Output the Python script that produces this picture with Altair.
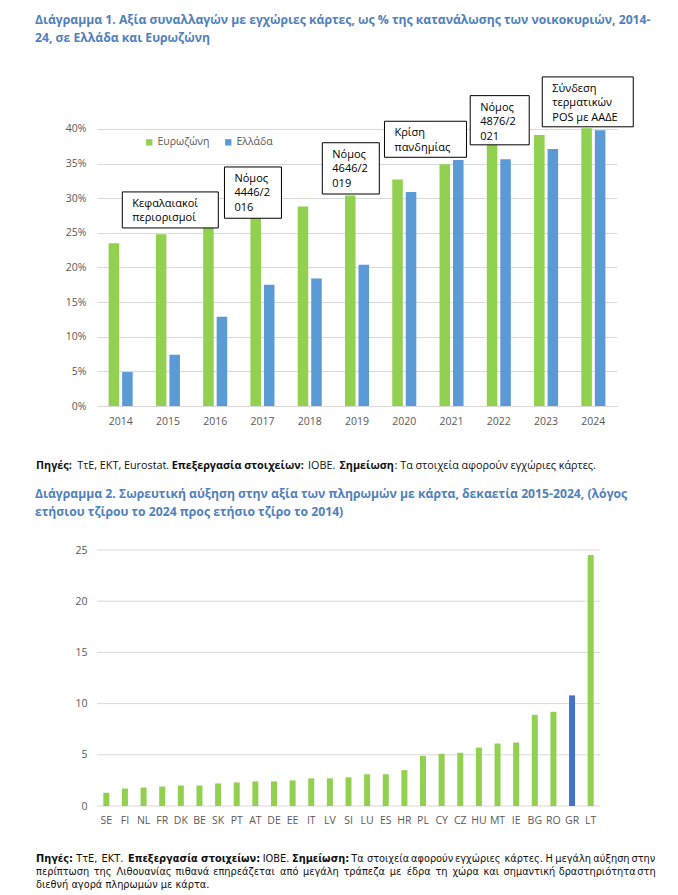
import altair as alt
import pandas as pd

# ---------------- data ----------------
years = ["2014", "2015", "2016", "2017", "2018", "2019", "2020", "2021", "2022", "2023", "2024"]
eurozone = [0.235, 0.248, 0.261, 0.275, 0.288, 0.304, 0.327, 0.349, 0.380, 0.391, 0.401]
greece = [0.049, 0.074, 0.129, 0.175, 0.184, 0.204, 0.309, 0.355, 0.356, 0.371, 0.398]
series_names = ["Ευρωζώνη", "Ελλάδα"]
pct_ticks = [0, 0.05, 0.10, 0.15, 0.20, 0.25, 0.30, 0.35, 0.40]

ann_texts = [
    ["Κεφαλαιακοί", "περιορισμοί"],
    ["Νόμος", "4446/2", "016"],
    ["Νόμος", "4646/2", "019"],
    ["Κρίση", "πανδημίας"],
    ["Νόμος", "4876/2", "021"],
    ["Σύνδεση", "τερματικών", "POS με ΑΑΔΕ"],
]
ann_years = ["2015", "2017", "2019", "2020", "2022", "2024"]
ann_top = [0.309, 0.345, 0.380, 0.411, 0.448, 0.475]
ann_bottom = [0.257, 0.271, 0.306, 0.359, 0.377, 0.403]

countries = ["SE", "FI", "NL", "FR", "DK", "BE", "SK", "PT", "AT", "DE", "EE", "IT", "LV", "SI",
             "LU", "ES", "HR", "PL", "CY", "CZ", "HU", "MT", "IE", "BG", "RO", "GR", "LT"]
growth = [1.3, 1.7, 1.8, 1.9, 2.0, 2.0, 2.2, 2.3, 2.4, 2.4, 2.5, 2.7, 2.7, 2.8,
          3.1, 3.1, 3.5, 4.9, 5.1, 5.2, 5.7, 6.1, 6.2, 8.9, 9.2, 10.8, 24.5]
highlight = "GR"
growth_ticks = [0, 5, 10, 15, 20, 25]

title1 = ["Διάγραμμα 1. Αξία συναλλαγών με εγχώριες κάρτες, ως % της κατανάλωσης των νοικοκυριών, 2014-",
          "24, σε Ελλάδα και Ευρωζώνη"]
title2 = ["Διάγραμμα 2. Σωρευτική αύξηση στην αξία των πληρωμών με κάρτα, δεκαετία 2015-2024, (λόγος",
          "ετήσιου τζίρου το 2024 προς ετήσιο τζίρο το 2014)"]
note1 = [("Πηγές:", True), (" ΤτΕ, ΕΚΤ, Eurostat. ", False), ("Επεξεργασία στοιχείων:", True),
         (" ΙΟΒΕ. ", False), ("Σημείωση", True), (": Τα στοιχεία αφορούν εγχώριες κάρτες.", False)]
note2 = [
    [("Πηγές:", True), (" ΤτΕ, ΕΚΤ. ", False), ("Επεξεργασία στοιχείων:", True), (" ΙΟΒΕ. ", False),
     ("Σημείωση:", True), (" Τα στοιχεία αφορούν εγχώριες κάρτες. Η μεγάλη αύξηση στην", False)],
    [("περίπτωση της Λιθουανίας πιθανά επηρεάζεται από μεγάλη τράπεζα με έδρα τη χώρα και σημαντική δραστηριότητα στη", False)],
    [("διεθνή αγορά πληρωμών με κάρτα.", False)],
]

# ---------------- styles / layout ----------------
FONT = "Open Sans"
NOTE2_FONT = "DejaVu Sans"
GREEN = "#92d050"
BLUE = "#5b9bd5"
DARKBLUE = "#4472c4"
TITLE_BLUE = "#4f81bd"
AXIS_GREY = "#595959"
GRID = "#d9d9d9"
ann_dx = [2.4, -9.5, -6.2, 21.2, 0.9, -5.6]
ann_w = [96, 57, 57, 82, 59, 91]

W = 520            # shared view width (chart 1 plot width)
H = 736            # view height: top of chart 1 plot to bottom of chart 2 plot
C1_ZERO = 336      # y of 0% inside the view
C1_PX = 692.8      # pixels per unit (100%) in chart 1
C2_PX = 10.24      # pixels per unit in chart 2
C2_W = 503         # chart 2 plot width
y1_domain = [-(H - C1_ZERO) / C1_PX, C1_ZERO / C1_PX]
y2_domain = [0, H / C2_PX]
c2_pad = (W * len(countries) / C2_W - len(countries)) / 2

# approximate advance widths (em) used only to place differently styled text runs
OPEN_EM = {
    " ": .26, ".": .266, ",": .243, ":": .266, ";": .266, "-": .32, "(": .30, ")": .30, "/": .37,
    "%": .855, "'": .2,
    "a": .556, "b": .613, "c": .476, "d": .613, "e": .561, "f": .339, "g": .548, "h": .614, "i": .253,
    "j": .253, "k": .53, "l": .253, "m": .93, "n": .614, "o": .604, "p": .613, "q": .613, "r": .408,
    "s": .477, "t": .353, "u": .614, "v": .5, "w": .78, "x": .52, "y": .5, "z": .47,
    "A": .633, "B": .638, "C": .63, "D": .72, "E": .535, "F": .5, "G": .72, "H": .738, "I": .29,
    "K": .573, "L": .51, "M": .9, "N": .75, "O": .78, "P": .586, "R": .6, "S": .519, "T": .539,
    "U": .73, "V": .6,
    "Α": .633, "Β": .638, "Γ": .5, "Δ": .62, "Ε": .535, "Ζ": .55, "Η": .738, "Θ": .78, "Ι": .29,
    "Κ": .573, "Λ": .6, "Μ": .9, "Ν": .75, "Ξ": .54, "Ο": .78, "Π": .72, "Ρ": .586, "Σ": .54,
    "Τ": .539, "Υ": .56, "Φ": .8, "Χ": .57, "Ψ": .8, "Ω": .75,
    "α": .61, "ά": .61, "β": .61, "γ": .52, "δ": .6, "ε": .49, "έ": .49, "ζ": .47, "η": .61,
    "ή": .61, "θ": .6, "ι": .3, "ί": .3, "ϊ": .3, "ΐ": .3, "κ": .54, "λ": .53, "μ": .62, "ν": .52,
    "ξ": .47, "ο": .6, "ό": .6, "π": .64, "ρ": .6, "σ": .61, "ς": .47, "τ": .47, "υ": .6, "ύ": .6,
    "φ": .78, "χ": .52, "ψ": .8, "ω": .82, "ώ": .82,
}


def em_open(ch):
    if ch.isdigit():
        return .556
    return OPEN_EM.get(ch, .56)


def em_dejavu(ch):
    if ch == " ":
        return 0.318
    if ch in "ilj.,:;'!|ίιΐΙ":
        return 0.30
    if ch in "frt()-/":
        return 0.38
    if ch.isdigit():
        return 0.636
    if ch in "mωώMΜ":
        return 0.85
    if ch.isupper():
        return 0.70
    return 0.60


EMF = {FONT: em_open, NOTE2_FONT: em_dejavu}
BOLDF = {FONT: 1.11, NOTE2_FONT: 1.12}


def measure(s, bold, fam):
    f = BOLDF[fam] if bold else 1.0
    return sum(EMF[fam](c) * (f if c != " " else 1.0) for c in s)


def runs_layout(runs, x0, y, size, fam, space_pad=1.5):
    # SVG drops leading/trailing blanks, so blanks only advance the pen
    rows, x = [], x0
    sp = EMF[fam](" ") * size + space_pad
    for text, bold in runs:
        core = text.strip(" ")
        lead = len(text) - len(text.lstrip(" "))
        trail = len(text) - len(text.rstrip(" "))
        x += lead * sp
        rows.append({"x": x, "y": y, "t": core, "bold": bold})
        x += measure(core, bold, fam) * size + trail * sp
    return rows


def justified_layout(runs, x0, y, size, fam, width):
    items = []
    for text, bold in runs:
        parts = text.split(" ")
        for k, p in enumerate(parts):
            if k > 0:
                items.append(("s", "", bold))
            if p:
                items.append(("w", p, bold))
    while items and items[0][0] == "s":
        items.pop(0)
    while items and items[-1][0] == "s":
        items.pop()
    sp = EMF[fam](" ") * size
    natural = sum(measure(t, b, fam) * size if k == "w" else sp for k, t, b in items)
    nsp = sum(1 for it in items if it[0] == "s")
    extra = (width - natural) / nsp if nsp else 0
    rows, x = [], x0
    for k, t, b in items:
        if k == "s":
            x += sp + extra
        else:
            rows.append({"x": x, "y": y, "t": t, "bold": b})
            x += measure(t, b, fam) * size
    return rows


def text_layers(rows, fam, size, color):
    df = pd.DataFrame(rows)
    out = []
    for b in [False, True]:
        sub = df[df["bold"] == b]
        if len(sub) == 0:
            continue
        out.append(
            alt.Chart(sub).mark_text(align="left", baseline="middle", font=fam, fontSize=size,
                                     fontWeight="bold" if b else "normal", color=color)
            .encode(x=alt.X("x:Q", scale=None), y=alt.Y("y:Q", scale=None), text="t:N")
        )
    return out


# font sizes fitted to the reference line lengths
t_size = round((623 / measure(title1[0], True, FONT) + 608 / measure(title2[0], True, FONT)) / 2, 1)
n1_size = round(554 / sum(measure(t, b, FONT) for t, b in note1), 1)
n2_size = 9.8

# ---------------- chart 1 ----------------
df1 = pd.DataFrame({
    "year": years * 2,
    "series": [series_names[0]] * len(years) + [series_names[1]] * len(years),
    "value": eurozone + greece,
})

X1_SCALE = alt.Scale(domain=years, paddingInner=0, paddingOuter=0)
X1_AXIS = alt.Axis(title=None, labelAngle=0, ticks=False, domainColor=GRID, grid=False, orient="bottom",
                   offset=-(H - C1_ZERO), labelColor=AXIS_GREY, labelFontSize=10.5, labelFont=FONT,
                   labelPadding=10)
Y1_SCALE = alt.Scale(domain=y1_domain, nice=False, zero=False)
Y1_AXIS = alt.Axis(values=pct_ticks, format=".0%", title=None, ticks=False, domain=False, orient="left",
                   gridColor=GRID, labelColor=AXIS_GREY, labelFontSize=10.5, labelFont=FONT,
                   labelPadding=11)

bars1 = alt.Chart(df1).mark_bar().encode(
    x=alt.X("year:N", scale=X1_SCALE, axis=X1_AXIS),
    xOffset=alt.XOffset("series:N", sort=series_names,
                        scale=alt.Scale(paddingInner=0.22, paddingOuter=0.86)),
    y=alt.Y("value:Q", scale=Y1_SCALE, axis=Y1_AXIS),
    y2=alt.datum(0),
    color=alt.Color("series:N", sort=series_names,
                    scale=alt.Scale(domain=series_names, range=[GREEN, BLUE]),
                    legend=alt.Legend(title=None, orient="none", legendX=47, legendY=67,
                                      direction="horizontal", symbolType="square", symbolSize=40,
                                      symbolStrokeWidth=0, labelFontSize=10.5, labelColor=AXIS_GREY,
                                      labelFont=FONT, labelOffset=3, columnPadding=13, padding=0)),
)

ann_layers = []
for i in range(len(ann_texts)):
    d = pd.DataFrame({"year": [ann_years[i]], "top": [ann_top[i]], "bottom": [ann_bottom[i]]})
    box = alt.Chart(d).mark_bar(width=ann_w[i], xOffset=ann_dx[i], fill="white", stroke="black",
                                strokeWidth=1).encode(
        x=alt.X("year:N", scale=X1_SCALE, axis=X1_AXIS),
        y=alt.Y("top:Q", scale=Y1_SCALE, axis=Y1_AXIS), y2="bottom:Q")
    txt = alt.Chart(d).mark_text(align="left", baseline="top", xOffset=ann_dx[i] - ann_w[i] / 2 + 10,
                                 yOffset=6, lineHeight=14.5, fontSize=11, font=FONT,
                                 color="black").encode(
        x=alt.X("year:N", scale=X1_SCALE, axis=X1_AXIS),
        y=alt.Y("top:Q", scale=Y1_SCALE, axis=Y1_AXIS),
        text=alt.value(ann_texts[i]))
    ann_layers += [box, txt]

group1 = alt.layer(bars1, *ann_layers)

# ---------------- chart 2 ----------------
df2 = pd.DataFrame({"country": countries, "growth": growth,
                    "group": ["hl" if c == highlight else "other" for c in countries]})
X2_SCALE = alt.Scale(domain=countries, paddingInner=0, paddingOuter=c2_pad, align=0)
X2_AXIS = alt.Axis(title=None, labelAngle=0, ticks=False, domain=False, grid=False, orient="bottom",
                   labelColor=AXIS_GREY, labelFontSize=10.5, labelFont=FONT, labelPadding=9)
Y2_SCALE = alt.Scale(domain=y2_domain, nice=False, zero=False)
Y2_AXIS = alt.Axis(values=growth_ticks, title=None, ticks=False, domain=False, grid=False, orient="left",
                   labelColor=AXIS_GREY, labelFontSize=10.5, labelFont=FONT, labelPadding=10)

grid2 = alt.Chart(pd.DataFrame({"g": growth_ticks})).mark_rule(color=GRID, strokeWidth=1).encode(
    y=alt.Y("g:Q", scale=Y2_SCALE, axis=Y2_AXIS), x=alt.value(0), x2=alt.value(C2_W))
bars2 = alt.Chart(df2).mark_bar(size=6).encode(
    x=alt.X("country:N", sort=countries, scale=X2_SCALE, axis=X2_AXIS),
    y=alt.Y("growth:Q", scale=Y2_SCALE, axis=Y2_AXIS),
    y2=alt.datum(0),
    color=alt.Color("group:N", scale=alt.Scale(domain=["other", "hl"], range=[GREEN, DARKBLUE]),
                    legend=None),
)
group2 = alt.layer(grid2, bars2)

# ---------------- titles and notes (view coordinates, origin = chart 1 plot corner) ----------------
frame = alt.Chart(pd.DataFrame({"f": [0]})).mark_rect(opacity=0).encode(
    x=alt.value(-89), x2=alt.value(573), y=alt.value(-62), y2=alt.value(H + 10))

texts = []
texts += text_layers([{"x": -62, "y": -50, "t": title1[0], "bold": True},
                      {"x": -62, "y": -32, "t": title1[1], "bold": True},
                      {"x": -62, "y": 424, "t": title2[0], "bold": True},
                      {"x": -62, "y": 442, "t": title2[1], "bold": True}], FONT, t_size, TITLE_BLUE)
texts += text_layers(runs_layout(note1, -61, 396, n1_size, FONT), FONT, n1_size, "#111111")
n2_rows = []
n2_rows += justified_layout(note2[0], -61, 789, n2_size, NOTE2_FONT, 619)
n2_rows += justified_layout(note2[1], -61, 802, n2_size, NOTE2_FONT, 619)
n2_rows += runs_layout(note2[2], -61, 815, n2_size, NOTE2_FONT, space_pad=0)
texts += text_layers(n2_rows, NOTE2_FONT, n2_size, "#111111")

chart = (
    alt.layer(frame, group1, group2, *texts)
    .resolve_scale(x="independent", y="independent", color="independent", xOffset="independent")
    .resolve_axis(x="independent", y="independent")
    .properties(width=W, height=H, padding=0)
    .configure_view(stroke="transparent")
)

chart.save("out.html", embed_options={"renderer": "svg", "actions": False})
